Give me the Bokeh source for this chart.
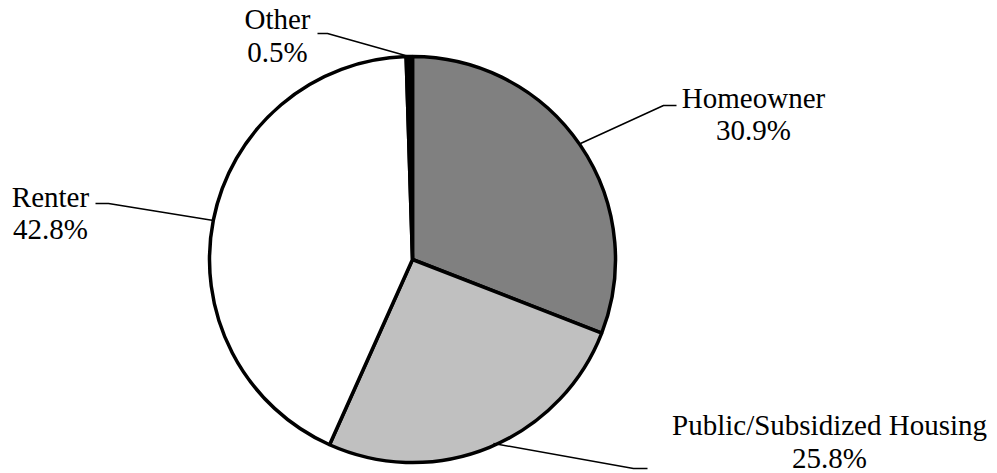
import math
from bokeh.plotting import figure
from bokeh.models import Range1d, ColumnDataSource
from bokeh.core.properties import value
from bokeh.embed import file_html
from bokeh.resources import INLINE

# ---- data ----
categories = ["Homeowner", "Public/Subsidized Housing", "Renter", "Other"]
shares = [30.9, 25.8, 42.8, 0.5]
colors = ["#808080", "#C0C0C0", "#FFFFFF", "#000000"]
pct_labels = ["30.9%", "25.8%", "42.8%", "0.5%"]

W, H = 997, 473

def sy(y):
    return H - y

p = figure(width=W, height=H, output_backend="svg", toolbar_location=None,
           x_range=Range1d(0, W), y_range=Range1d(0, H),
           min_border=0, outline_line_color=None)
p.axis.visible = False
p.grid.visible = False
p.background_fill_color = "white"
p.border_fill_color = "white"

# pie geometry
cx, cy, r = 412, sy(259), 203
total = sum(shares)
starts, ends = [], []
a = math.pi / 2
for s in shares:
    starts.append(a)
    a -= s / total * 2 * math.pi
    ends.append(a)

src = ColumnDataSource(dict(cat=categories, start=starts, end=ends, color=colors))
p.wedge(x=cx, y=cy, radius=r, start_angle="start", end_angle="end",
        direction="clock", fill_color="color", line_color="black",
        line_width=3.5, source=src)

# leader lines (screen coords)
leaders = {
    "Homeowner": [(580, 143), (663, 105), (676, 105)],
    "Public/Subsidized Housing": [(493, 443), (633, 468), (647, 468)],
    "Renter": [(213, 220), (108, 203), (95, 203)],
    "Other": [(405, 55), (327, 33), (317, 33)],
}
for pts in leaders.values():
    p.line([q[0] for q in pts], [sy(q[1]) for q in pts], line_color="black", line_width=1.5)

# labels: (center x, baseline name, baseline pct)
label_pos = {
    "Homeowner": (753, 97, 129),
    "Public/Subsidized Housing": (829, 424, 457),
    "Renter": (50, 196, 228),
    "Other": (277, 18, 51),
}
tx, ty, tt = [], [], []
for cat, pct in zip(categories, pct_labels):
    x, y1, y2 = label_pos[cat]
    tx += [x, x]
    ty += [sy(y1), sy(y2)]
    tt += [cat, pct]

p.text(x=tx, y=ty, text=tt, text_font=value("Liberation Serif"),
       text_font_size="29px", text_align="center", text_baseline="alphabetic",
       text_color="black")

open("out.html", "w").write(file_html(p, INLINE))
